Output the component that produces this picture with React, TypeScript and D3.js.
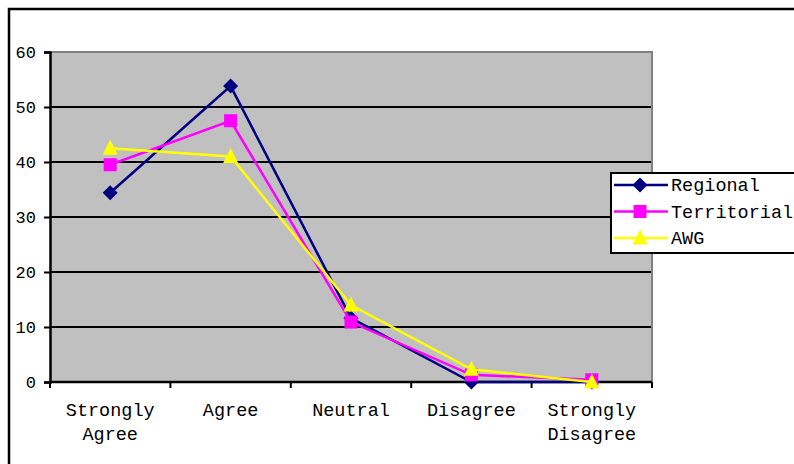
import { useEffect, useRef } from 'react';
import * as d3 from 'd3';

const categories = ['Strongly Agree', 'Agree', 'Neutral', 'Disagree', 'Strongly Disagree'];
const regional = [34.4, 53.8, 11.6, 0, 0];
const territorial = [39.5, 47.5, 10.9, 1.3, 0.4];
const awg = [42.5, 41, 14, 2.3, 0];
const yTicks = [0, 10, 20, 30, 40, 50, 60];

const seriesList = [
  { name: 'Regional', values: regional, color: '#000080', marker: 'diamond' },
  { name: 'Territorial', values: territorial, color: '#ff00ff', marker: 'square' },
  { name: 'AWG', values: awg, color: '#ffff00', marker: 'triangle' },
];

const FONT = '"Courier New", Courier, "Nimbus Mono PS", "FreeMono", "Liberation Mono", monospace';

export default function App() {
  const svgRef = useRef<SVGSVGElement>(null);

  useEffect(() => {
    if (!svgRef.current) return;
    const W = 794;
    const H = 464;
    const m = { left: 50, right: 142, top: 52, bottom: 82 };

    const svg = d3.select(svgRef.current);
    svg.selectAll('*').remove();
    svg.attr('width', W).attr('height', H);

    // outer frame (cut at right and bottom)
    svg.append('rect')
      .attr('x', 9).attr('y', 9)
      .attr('width', W + 20).attr('height', H + 20)
      .attr('fill', 'white').attr('stroke', '#000').attr('stroke-width', 2.5);

    const x = d3.scaleBand<string>()
      .domain(categories)
      .range([m.left, W - m.right]);
    const y = d3.scaleLinear()
      .domain([0, 60])
      .range([H - m.bottom, m.top]);

    // plot area
    svg.append('rect')
      .attr('x', m.left).attr('y', m.top)
      .attr('width', W - m.right - m.left).attr('height', H - m.bottom - m.top)
      .attr('fill', '#c0c0c0');

    // gridlines
    svg.append('g')
      .selectAll('line')
      .data(yTicks.filter(t => t > 0 && t < 60))
      .enter()
      .append('line')
      .attr('x1', m.left).attr('x2', W - m.right)
      .attr('y1', d => y(d)).attr('y2', d => y(d))
      .attr('stroke', '#000').attr('stroke-width', 2);

    // top and right border
    svg.append('path')
      .attr('d', `M${m.left},${y(60)}H${W - m.right}V${y(0)}`)
      .attr('fill', 'none').attr('stroke', '#808080').attr('stroke-width', 2);

    // y axis
    const yAxis = svg.append('g')
      .attr('transform', `translate(${m.left},0)`)
      .call(d3.axisLeft(y).tickValues(yTicks).tickSize(6).tickPadding(8));
    yAxis.select('.domain').attr('stroke', '#000').attr('stroke-width', 2.5);
    yAxis.selectAll('line').attr('stroke', '#000').attr('stroke-width', 2);
    yAxis.selectAll('text')
      .attr('font-family', FONT).attr('font-size', 17).attr('fill', '#000');

    // x axis
    const xAxis = svg.append('g')
      .attr('transform', `translate(0,${y(0)})`);
    xAxis.append('line')
      .attr('x1', m.left).attr('x2', W - m.right)
      .attr('stroke', '#000').attr('stroke-width', 2.5);
    const bounds = [...categories.map(c => x(c) as number), (x(categories[categories.length - 1]) as number) + x.bandwidth()];
    xAxis.selectAll('.tk')
      .data(bounds)
      .enter()
      .append('line')
      .attr('x1', d => d).attr('x2', d => d)
      .attr('y1', 0).attr('y2', 6)
      .attr('stroke', '#000').attr('stroke-width', 2);
    categories.forEach(c => {
      const words = c.split(' ');
      const t = xAxis.append('text')
        .attr('x', (x(c) as number) + x.bandwidth() / 2)
        .attr('y', 34)
        .attr('text-anchor', 'middle')
        .attr('font-family', FONT).attr('font-size', 18.5).attr('fill', '#000');
      words.forEach((w, i) => {
        t.append('tspan')
          .attr('x', (x(c) as number) + x.bandwidth() / 2)
          .attr('dy', i === 0 ? 0 : 24)
          .text(w);
      });
    });

    const cx = (i: number) => (x(categories[i]) as number) + x.bandwidth() / 2;

    const drawMarker = (g: d3.Selection<SVGGElement, unknown, null, undefined>, kind: string, px: number, py: number, color: string) => {
      if (kind === 'diamond') {
        g.append('path')
          .attr('d', `M${px},${py - 7.5}L${px + 7.5},${py}L${px},${py + 7.5}L${px - 7.5},${py}Z`)
          .attr('fill', color);
      } else if (kind === 'square') {
        g.append('rect')
          .attr('x', px - 6.5).attr('y', py - 6.5).attr('width', 13).attr('height', 13)
          .attr('fill', color);
      } else {
        g.append('path')
          .attr('d', `M${px},${py - 8.5}L${px + 7.5},${py + 6.5}L${px - 7.5},${py + 6.5}Z`)
          .attr('fill', color);
      }
    };

    const line = d3.line<number>()
      .x((_, i) => cx(i))
      .y(d => y(d));

    seriesList.forEach(s => {
      const g = svg.append('g');
      g.append('path')
        .datum(s.values)
        .attr('d', line)
        .attr('fill', 'none')
        .attr('stroke', s.color)
        .attr('stroke-width', 2.5);
      s.values.forEach((v, i) => drawMarker(g, s.marker, cx(i), y(v), s.color));
    });

    // legend
    const lg = svg.append('g').attr('transform', 'translate(611,173)');
    lg.append('rect')
      .attr('x', 0).attr('y', 0).attr('width', 200).attr('height', 80)
      .attr('fill', 'white').attr('stroke', '#000').attr('stroke-width', 2);
    seriesList.forEach((s, i) => {
      const ly = 12 + i * 26.5;
      const row = lg.append('g');
      row.append('line')
        .attr('x1', 3).attr('x2', 57).attr('y1', ly).attr('y2', ly)
        .attr('stroke', s.color).attr('stroke-width', 2.5);
      drawMarker(row, s.marker, 29, ly, s.color);
      row.append('text')
        .attr('x', 60).attr('y', ly + 6)
        .attr('font-family', FONT).attr('font-size', 18.5).attr('fill', '#000')
        .text(s.name);
    });
  }, []);

  return (
    <svg ref={svgRef} style={{ position: 'absolute', left: 0, top: 0, display: 'block' }} />
  );
}
